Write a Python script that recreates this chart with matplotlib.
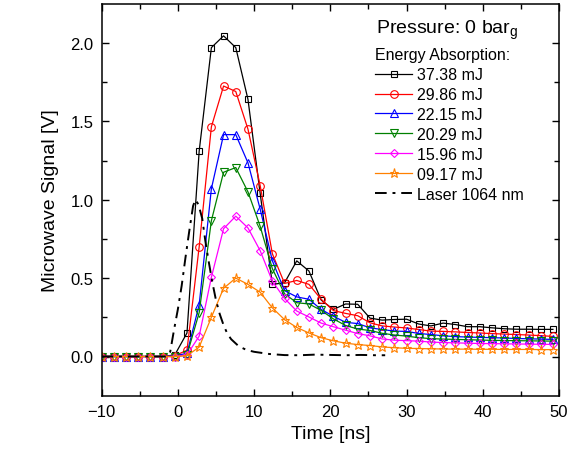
import numpy as np
import matplotlib
matplotlib.use("Agg")
import matplotlib.pyplot as plt

plt.rcParams['font.family'] = ['Liberation Sans', 'DejaVu Sans']
plt.rcParams['mathtext.fontset'] = 'custom'
plt.rcParams['mathtext.rm'] = 'Liberation Sans'
plt.rcParams['mathtext.it'] = 'Liberation Sans'

# ---- data ----
time_ns = [-10.0 + 1.6 * k for k in range(38)]

e37_38 = [0.0, 0.0, 0.0, 0.0, 0.0, 0.0, 0.01, 0.15, 1.31, 1.97, 2.045, 1.97, 1.64, 1.04,
          0.46, 0.47, 0.61, 0.545, 0.36, 0.30, 0.335, 0.333, 0.245, 0.232, 0.236, 0.238,
          0.207, 0.195, 0.213, 0.204, 0.19, 0.19, 0.183, 0.177, 0.174, 0.174, 0.173, 0.173]
e29_86 = [0.0, 0.0, 0.0, 0.0, 0.0, 0.0, 0.005, 0.04, 0.70, 1.465, 1.725, 1.69, 1.45, 1.09,
          0.655, 0.466, 0.485, 0.46, 0.365, 0.293, 0.275, 0.26, 0.215, 0.195, 0.188, 0.182,
          0.172, 0.162, 0.16, 0.157, 0.153, 0.15, 0.146, 0.143, 0.14, 0.137, 0.133, 0.128]
e22_15 = [0.0, 0.0, 0.0, 0.0, 0.0, 0.0, 0.005, 0.02, 0.33, 1.07, 1.415, 1.415, 1.235, 0.94,
          0.61, 0.42, 0.38, 0.365, 0.30, 0.257, 0.218, 0.21, 0.183, 0.172, 0.162, 0.16,
          0.147, 0.14, 0.132, 0.127, 0.124, 0.122, 0.12, 0.118, 0.115, 0.113, 0.111, 0.109]
e20_29 = [0.0, 0.0, 0.0, 0.0, 0.0, 0.0, 0.0, 0.01, 0.28, 0.866, 1.175, 1.205, 1.05, 0.83,
          0.56, 0.40, 0.343, 0.335, 0.294, 0.24, 0.198, 0.175, 0.166, 0.148, 0.137, 0.13,
          0.12, 0.114, 0.111, 0.109, 0.107, 0.105, 0.103, 0.102, 0.101, 0.1, 0.099, 0.098]
e15_96 = [0.0, 0.0, 0.0, 0.0, 0.0, 0.0, 0.0, 0.01, 0.13, 0.505, 0.815, 0.895, 0.82, 0.675,
          0.48, 0.37, 0.29, 0.252, 0.213, 0.19, 0.168, 0.146, 0.132, 0.112, 0.104, 0.101,
          0.098, 0.092, 0.089, 0.087, 0.085, 0.083, 0.082, 0.081, 0.08, 0.079, 0.078, 0.077]
e09_17 = [0.0, 0.0, 0.0, 0.0, 0.0, 0.0, 0.0, 0.005, 0.06, 0.25, 0.435, 0.50, 0.46, 0.41,
          0.31, 0.235, 0.185, 0.15, 0.12, 0.10, 0.085, 0.076, 0.07, 0.061, 0.056, 0.052,
          0.051, 0.049, 0.048, 0.047, 0.047, 0.046, 0.046, 0.045, 0.045, 0.045, 0.044, 0.044]

laser_t = [-10, -6, -3, -1.5, -1.0, -0.5, 0.0, 0.5, 1.0, 1.5, 2.0, 2.3, 2.7, 3.2, 3.6, 4.0,
           4.5, 5.0, 5.5, 6.0, 6.5, 7.0, 8.0, 9.0, 10.0, 12.0, 14.0, 16.0, 18.0, 20.0,
           22.0, 24.0, 26.0, 27.2]
laser_v = [0.0, 0.0, 0.0, 0.0, 0.03, 0.17, 0.30, 0.45, 0.63, 0.80, 0.96, 1.0, 0.97, 0.88,
           0.74, 0.62, 0.48, 0.36, 0.27, 0.20, 0.145, 0.11, 0.065, 0.042, 0.03, 0.016,
           0.009, 0.008, 0.012, 0.01, 0.008, 0.01, 0.008, 0.008]

labels = ['37.38 mJ', '29.86 mJ', '22.15 mJ', '20.29 mJ', '15.96 mJ', '09.17 mJ']
series = [e37_38, e29_86, e22_15, e20_29, e15_96, e09_17]
colors = ['#000000', '#FF0000', '#0000FF', '#008000', '#FF00FF', '#FF8000']
markers = ['s', 'o', '^', 'v', 'D', '*']
msizes = [4.8, 5.5, 5.5, 5.5, 4.5, 6.5]

fig = plt.figure(figsize=(5.69, 4.52), dpi=100)
ax = fig.add_axes([101.6 / 569, 1 - 396.7 / 452, (559 - 101.6) / 569, (396.7 - 4.7) / 452])

handles = []
for y, c, m, ms, lab in zip(series, colors, markers, msizes, labels):
    h, = ax.plot(time_ns, y, color=c, lw=0.9, marker=m, ms=ms, mfc='none',
                 mec=c, mew=0.8, label=lab)
    handles.append(h)

hl, = ax.plot(laser_t, laser_v, color='black', lw=1.4, ls=(0, (6, 3, 1.5, 3)),
              label='Laser 1064 nm')
handles.append(hl)

ax.set_xlim(-10, 50)
ax.set_ylim(-0.25, 2.25)
ax.set_xticks(np.arange(-10, 51, 10))
ax.set_xticks(np.arange(-5, 50, 10), minor=True)
ax.set_yticks([0.0, 0.5, 1.0, 1.5, 2.0])
ax.set_yticks([0.25, 0.75, 1.25, 1.75], minor=True)
ax.set_yticklabels(['0.0', '0.5', '1.0', '1.5', '2.0'])
ax.tick_params(which='both', direction='in', top=True, right=True, labelsize=12,
               width=1.0, colors='black')
ax.tick_params(which='major', length=5)
ax.tick_params(which='minor', length=3.5)
ax.tick_params(axis='x', which='major', pad=6)
ax.tick_params(axis='y', which='major', pad=6)
for s in ax.spines.values():
    s.set_linewidth(1.1)

ax.set_xlabel('Time [ns]', fontsize=14, labelpad=4)
ax.set_ylabel('Microwave Signal [V]', fontsize=14, labelpad=8)

fig.text(376 / 569, 1 - 34 / 452, r'Pressure: 0 bar$_{\mathrm{g}}$', fontsize=14,
         ha='left', va='baseline')

leg = ax.legend(handles=handles, loc='upper left',
                bbox_to_anchor=(372 / 569, 1 - 45 / 452), bbox_transform=fig.transFigure,
                frameon=False, fontsize=11.5, title='Energy Absorption:',
                title_fontsize=11.5, alignment='left', numpoints=1,
                handlelength=2.3, handletextpad=0.3, labelspacing=0.31,
                borderpad=0.2, borderaxespad=0)

fig.savefig('out.png', dpi=100)
